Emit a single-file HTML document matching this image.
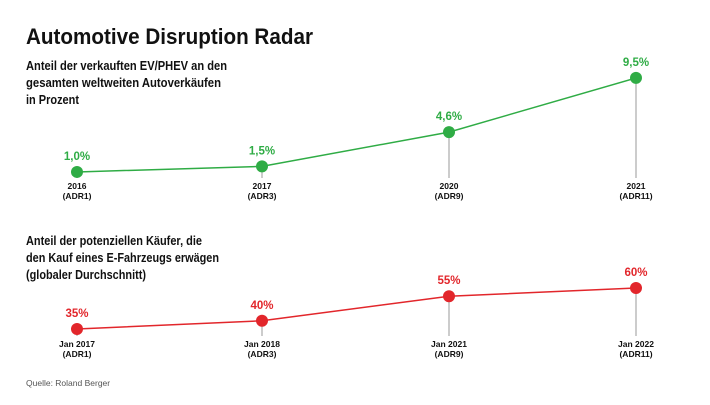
<!DOCTYPE html>
<html><head><meta charset="utf-8"><style>
body{margin:0;background:#fff;font-family:"Liberation Sans",sans-serif}
</style></head><body>
<svg width="710" height="400" viewBox="0 0 710 400" xmlns="http://www.w3.org/2000/svg" font-family="Liberation Sans, sans-serif">
<text x="26" y="44" font-size="22" font-weight="bold" fill="#111" textLength="287" lengthAdjust="spacingAndGlyphs">Automotive Disruption Radar</text>
<g font-size="12.5" font-weight="bold" fill="#111">
<text x="26" y="70" textLength="201" lengthAdjust="spacingAndGlyphs">Anteil der verkauften EV/PHEV an den</text>
<text x="26" y="87" textLength="195" lengthAdjust="spacingAndGlyphs">gesamten weltweiten Autoverkäufen</text>
<text x="26" y="104" textLength="53" lengthAdjust="spacingAndGlyphs">in Prozent</text>
</g>
<g font-size="12.5" font-weight="bold" fill="#111">
<text x="26" y="245" textLength="176" lengthAdjust="spacingAndGlyphs">Anteil der potenziellen Käufer, die</text>
<text x="26" y="262" textLength="193" lengthAdjust="spacingAndGlyphs">den Kauf eines E-Fahrzeugs erwägen</text>
<text x="26" y="279" textLength="120" lengthAdjust="spacingAndGlyphs">(globaler Durchschnitt)</text>
</g>
<text x="26" y="386" font-size="8.5" fill="#555">Quelle: Roland Berger</text>
<g id="c1"></g><g id="c2"></g>
</svg>
<script>
const cats1=["2016","2017","2020","2021"];
const sub1=["(ADR1)","(ADR3)","(ADR9)","(ADR11)"];
const vals1=[1.0,1.5,4.6,9.5];
const lbl1=["1,0%","1,5%","4,6%","9,5%"];
const cats2=["Jan 2017","Jan 2018","Jan 2021","Jan 2022"];
const sub2=["(ADR1)","(ADR3)","(ADR9)","(ADR11)"];
const vals2=[35,40,55,60];
const lbl2=["35%","40%","55%","60%"];
const xs=[77,262,449,636];
const NS="http://www.w3.org/2000/svg";
function mk(p,t,a){const e=document.createElementNS(NS,t);for(const k in a)e.setAttribute(k,a[k]);p.appendChild(e);return e;}
function draw(g,cats,sub,vals,lbl,yf,base,color,prefix){
  const pts=vals.map((v,i)=>[xs[i],yf(v)]);
  for(let i=0;i<vals.length;i++){
    const l=mk(g,'line',{x1:pts[i][0],y1:pts[i][1],x2:pts[i][0],y2:base,stroke:'#bbb','stroke-width':1.5});
    
    
  }
  const pl=mk(g,'polyline',{points:pts.map(p=>p.join(',')).join(' '),fill:'none',stroke:color,'stroke-width':1.5});
  
  
  for(let i=0;i<vals.length;i++){
    const c=mk(g,'circle',{cx:pts[i][0],cy:pts[i][1],r:6,fill:color});
    
    
    const t=mk(g,'text',{x:pts[i][0],y:pts[i][1]-12,'text-anchor':'middle','font-size':11.5,'font-weight':'bold',fill:color});
    t.textContent=lbl[i];
    
    
    const a=mk(g,'text',{x:pts[i][0],y:base+11,'text-anchor':'middle','font-size':8.5,'font-weight':'bold',fill:'#111'});
    a.textContent=cats[i];
    
    
    const b=mk(g,'text',{x:pts[i][0],y:base+21,'text-anchor':'middle','font-size':8.5,'font-weight':'bold',fill:'#111'});
    b.textContent=sub[i];
    
    
  }
}
draw(document.getElementById('c1'),cats1,sub1,vals1,lbl1,v=>183-11.06*v,178,'#2fac45','ev-share');
draw(document.getElementById('c2'),cats2,sub2,vals2,lbl2,v=>386.4-1.64*v,336,'#e2262b','buyers');
</script>
</body></html>
